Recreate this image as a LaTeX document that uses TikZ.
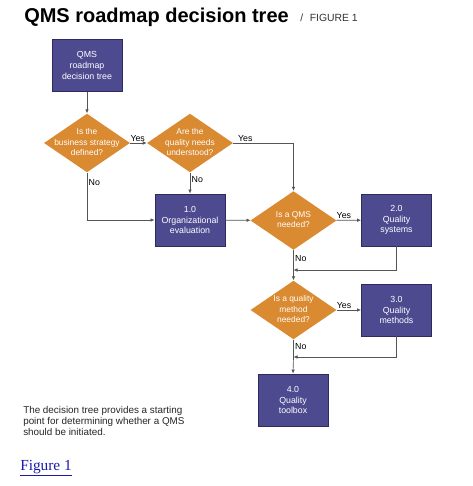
\documentclass[tikz,border=0pt]{standalone}
\usepackage{fontspec}
\setmainfont{Liberation Serif}
\setsansfont{Liberation Sans}
\usetikzlibrary{shapes.geometric,arrows.meta}
\definecolor{boxpurple}{HTML}{4E4A8F}
\definecolor{boxedge}{HTML}{2E2A5E}
\definecolor{decorange}{HTML}{DA8A30}
\definecolor{linegray}{HTML}{555555}
\definecolor{linkblue}{HTML}{1A1AAA}
\newcommand\dtext[1]{\makebox[0pt]{\begin{tabular}{@{}c@{}}#1\end{tabular}}}
\begin{document}
\begin{tikzpicture}[x=0.75pt,y=-0.75pt,
  procbox/.style={rectangle,draw=boxedge,line width=0.6pt,fill=boxpurple,text=white,
    minimum width=52.5pt,minimum height=39pt,inner sep=0pt,align=center,
    font=\sffamily\fontsize{6.6}{8}\selectfont},
  decision/.style={diamond,fill=decorange,text=white,inner sep=0pt,
    minimum width=64.5pt,minimum height=44pt,aspect=1.46,
    font=\sffamily\fontsize{6.3}{7.8}\selectfont},
  conn/.style={draw=linegray,line width=0.5pt},
  arr/.style={conn,-{Latex[length=3pt,width=2.6pt]}},
  lbl/.style={font=\sffamily\fontsize{6.6}{8}\selectfont,text=black,inner sep=1pt}]
\useasboundingbox (0,0) rectangle (473,486);
\fill[white] (0,0) rectangle (473,486);
% title
\node[anchor=base west,inner sep=0pt,font=\sffamily\bfseries\fontsize{15}{18}\selectfont] (title) at (24,22) {QMS roadmap decision tree};
\node[anchor=base west,inner sep=0pt,font=\sffamily\fontsize{7.8}{9}\selectfont,text=black!80] (fig) at (300,21) {/\hspace{5pt}FIGURE 1};
% nodes
\node[procbox] (start) at (87,65.5) {QMS\\roadmap\\decision tree};
\node[decision] (d1) at (87,143) {\dtext{Is the\\business strategy\\defined?}};
\node[decision] (d2) at (190,143) {\dtext{Are the\\quality needs\\understood?}};
\node[procbox] (b1) at (190,220) {1.0\\Organizational\\evaluation};
\node[decision] (d3) at (293.5,220.5) {\dtext{Is a QMS\\needed?}};
\node[procbox] (b2) at (396.5,220) {2.0\\Quality\\systems};
\node[decision] (d4) at (293.5,310) {\dtext{Is a quality\\method\\needed?}};
\node[procbox] (b3) at (396.5,310) {3.0\\Quality\\methods};
\node[procbox] (b4) at (293,400) {4.0\\Quality\\toolbox};
\coordinate (j1) at (293.5,270);
\coordinate (j2) at (293.5,357);
% connectors
\draw[arr] (start) -- (d1);
\draw[arr] (d1) -- node[lbl,above,pos=0.45] {Yes} (d2);
\draw[arr] (d2.east) -- node[lbl,above,pos=0.2] {Yes} (d2.east -| d3.north) -- (d3.north);
\draw[arr] (d1.south) -- node[lbl,right,pos=0.2] {No} (d1.south |- b1.west) -- (b1.west);
\draw[arr] (d2) -- node[lbl,right,pos=0.35] {No} (b1);
\draw[arr] (b1) -- (d3);
\draw[arr] (d3) -- node[lbl,above,pos=0.3] {Yes} (b2);
\draw[arr] (d4) -- node[lbl,above,pos=0.3] {Yes} (b3);
\draw[conn] (d3.south) -- node[lbl,right,pos=0.4] {No} (j1);
\draw[arr] (j1) -- (d4.north);
\draw[arr] (b2.south) |- (j1);
\draw[conn] (d4.south) -- node[lbl,right,pos=0.4] {No} (j2);
\draw[arr] (j2) -- (b4.north);
\draw[arr] (b3.south) |- (j2);
% caption
\node[anchor=north west,inner sep=0pt,align=left,text=black!85,
  font=\sffamily\fontsize{7.4}{8.3}\selectfont] (cap) at (23,406)
  {The decision tree provides a starting\\point for determining whether a QMS\\should be initiated.};
\node[anchor=base west,inner sep=0pt,text=linkblue,font=\fontsize{11.5}{13}\selectfont] (link) at (20,470) {\underline{Figure 1}};
\end{tikzpicture}
\end{document}
